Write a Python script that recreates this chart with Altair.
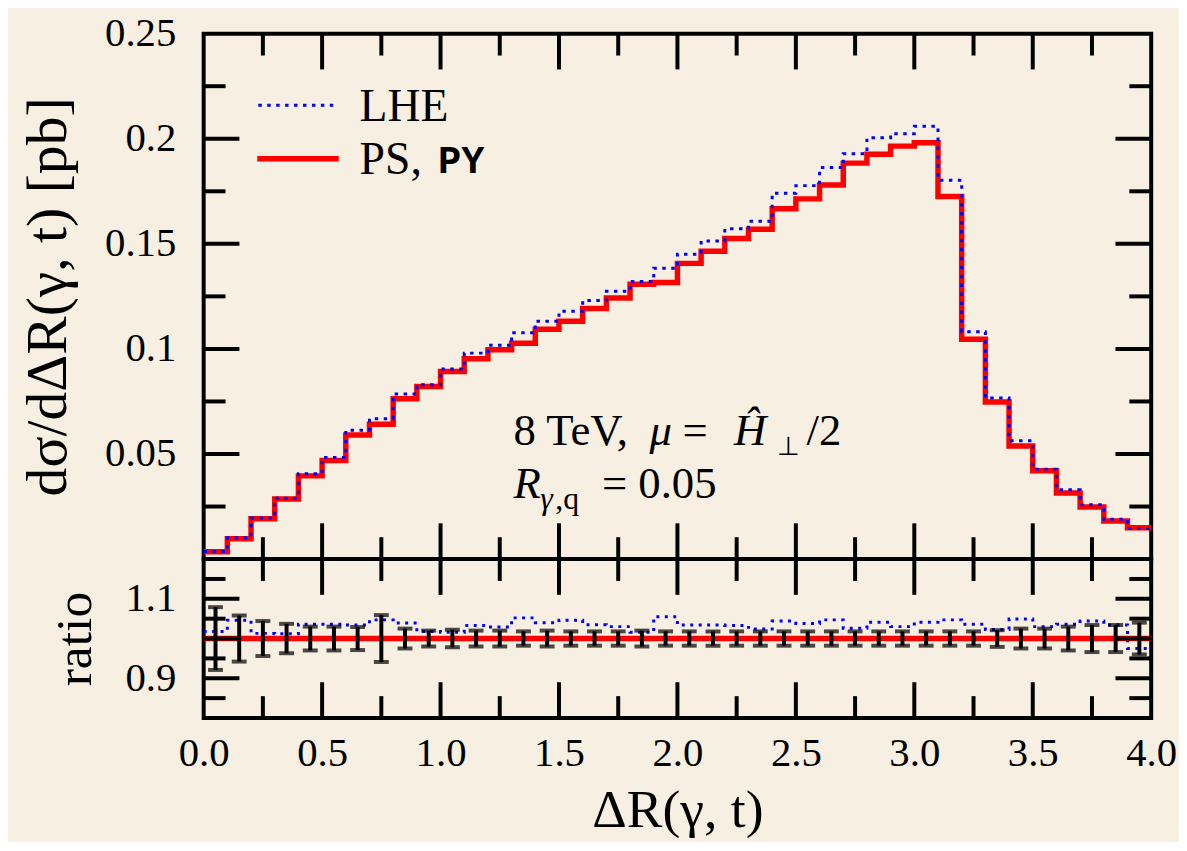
import altair as alt
import pandas as pd

# ---------------- data ----------------
bin_lo = [0.0, 0.1, 0.2, 0.3, 0.4, 0.5, 0.6, 0.7, 0.8, 0.9,
          1.0, 1.1, 1.2, 1.3, 1.4, 1.5, 1.6, 1.7, 1.8, 1.9,
          2.0, 2.1, 2.2, 2.3, 2.4, 2.5, 2.6, 2.7, 2.8, 2.9,
          3.0, 3.1, 3.2, 3.3, 3.4, 3.5, 3.6, 3.7, 3.8, 3.9]
x_end = 4.0

ps = [0.0035, 0.0097, 0.0192, 0.0286, 0.0396, 0.0469, 0.0590, 0.0642, 0.0763, 0.0821,
      0.0893, 0.0953, 0.0996, 0.1027, 0.1094, 0.1132, 0.1192, 0.1242, 0.1308, 0.1316,
      0.1407, 0.1465, 0.1525, 0.1569, 0.1667, 0.1714, 0.1780, 0.1884, 0.1926, 0.1965,
      0.1981, 0.1725, 0.1046, 0.0747, 0.0538, 0.0420, 0.0314, 0.0248, 0.0181, 0.0149]

lhe = [0.0036, 0.0101, 0.0195, 0.0290, 0.0406, 0.0484, 0.0613, 0.0668, 0.0786, 0.0830,
       0.0904, 0.0980, 0.1017, 0.1077, 0.1132, 0.1179, 0.1230, 0.1274, 0.1321, 0.1384,
       0.1451, 0.1514, 0.1572, 0.1607, 0.1741, 0.1777, 0.1863, 0.1929, 0.2005, 0.2024,
       0.2060, 0.1803, 0.1082, 0.0766, 0.0563, 0.0428, 0.0330, 0.0259, 0.0189, 0.0146]

ratio_lhe = [1.018, 1.046, 1.013, 1.012, 1.036, 1.036, 1.034, 1.047, 1.039, 1.018,
             1.016, 1.033, 1.029, 1.052, 1.040, 1.046, 1.035, 1.030, 1.016, 1.055,
             1.034, 1.034, 1.033, 1.024, 1.044, 1.038, 1.047, 1.026, 1.041, 1.030,
             1.041, 1.047, 1.036, 1.023, 1.049, 1.030, 1.036, 1.044, 1.034, 0.975]

ratio_err = [0.079, 0.058, 0.044, 0.037, 0.030, 0.030, 0.029, 0.059, 0.025, 0.020,
             0.022, 0.020, 0.020, 0.018, 0.020, 0.018, 0.018, 0.018, 0.020, 0.018,
             0.018, 0.018, 0.018, 0.018, 0.018, 0.018, 0.018, 0.018, 0.018, 0.018,
             0.018, 0.018, 0.018, 0.021, 0.025, 0.025, 0.030, 0.034, 0.034, 0.040]

x_labels = [0.0, 0.5, 1.0, 1.5, 2.0, 2.5, 3.0, 3.5, 4.0]
x_major = [0.5, 1.0, 1.5, 2.0, 2.5, 3.0, 3.5]
x_minor = [0.25, 0.75, 1.25, 1.75, 2.25, 2.75, 3.25, 3.75]
y1_labels = [0.05, 0.1, 0.15, 0.2, 0.25]
y1_major = [0.05, 0.1, 0.15, 0.2]
y1_minor = [0.025, 0.075, 0.125, 0.175, 0.225]
y2_labels = [0.9, 1.0, 1.1]
y2_major = [0.9, 1.0, 1.1]
y2_minor = [0.85, 0.95, 1.05, 1.15]

# ---------------- layout / style ----------------
W, H1, H2 = 954, 529, 160
SERIF = "Liberation Serif"
MONO = "Liberation Mono"
BG = "#F7EFE1"
TMAJ, TMIN = 36, 22

xs = alt.Scale(domain=[0, 4], nice=False, zero=False)
ys1 = alt.Scale(domain=[0, 0.25], nice=False, zero=False)
ys2 = alt.Scale(domain=[0.8, 1.2], nice=False, zero=False)

# one axis definition per channel, reused identically in every layer
ax_x_upper = None
ax_y_upper = alt.Axis(values=y1_labels, format="~g", title="dσ/dΔR(γ, t) [pb]",
                      labelPadding=28, titlePadding=27, titleFontSize=58)
ax_x_lower = alt.Axis(values=x_labels, format=".1f", title="ΔR(γ, t)",
                      labelPadding=16, titlePadding=10, titleFontSize=54,
                      labelFlush=False, labelOverlap=False)
ax_y_lower = alt.Axis(values=y2_labels, format=".1f", title="ratio",
                      labelPadding=28, titlePadding=24, titleFontSize=52)


def X(field, ax):
    return alt.X(field, scale=xs, axis=ax)


def step_df(vals):
    return pd.DataFrame({"x": bin_lo + [x_end], "y": vals + [vals[-1]]})


def xticks(vals, length, h, ax):
    df = pd.DataFrame({"v": vals})
    base = alt.Chart(df).mark_rule(color="black", strokeWidth=4)
    bot = base.encode(x=X("v:Q", ax), y=alt.value(h), y2=alt.value(h - length))
    top = base.encode(x=X("v:Q", ax), y=alt.value(0), y2=alt.value(length))
    return [bot, top]


def yticks(vals, length, scale, ax):
    df = pd.DataFrame({"v": vals})
    base = alt.Chart(df).mark_rule(color="black", strokeWidth=4)
    left = base.encode(y=alt.Y("v:Q", scale=scale, axis=ax),
                       x=alt.value(0), x2=alt.value(length))
    right = base.encode(y=alt.Y("v:Q", scale=scale, axis=ax),
                        x=alt.value(W), x2=alt.value(W - length))
    return [left, right]


def text(t, x, y, size, font=SERIF, style="normal", weight="normal"):
    return alt.Chart(pd.DataFrame({"t": [t]})).mark_text(
        font=font, fontSize=size, fontStyle=style, fontWeight=weight, align="left",
        baseline="alphabetic", color="black"
    ).encode(text="t:N", x=alt.value(x), y=alt.value(y))


# ---------------- upper panel ----------------
ps_line = alt.Chart(step_df(ps)).mark_line(
    interpolate="step-after", color="#FF0000", strokeWidth=5.5, clip=True, strokeCap="butt"
).encode(x=X("x:Q", ax_x_upper), y=alt.Y("y:Q", scale=ys1, axis=ax_y_upper))
lhe_line = alt.Chart(step_df(lhe)).mark_line(
    interpolate="step-after", color="#0000FF", strokeWidth=3, strokeDash=[3.5, 5.5],
    clip=True, strokeCap="butt"
).encode(x=X("x:Q", ax_x_upper), y=alt.Y("y:Q", scale=ys1, axis=ax_y_upper))

leg_blue = alt.Chart(pd.DataFrame({"a": [0]})).mark_rule(
    color="#0000FF", strokeWidth=3, strokeDash=[3.5, 5.5]
).encode(x=alt.value(55), x2=alt.value(131), y=alt.value(72))
leg_red = alt.Chart(pd.DataFrame({"a": [0]})).mark_rule(
    color="#FF0000", strokeWidth=5.5
).encode(x=alt.value(54), x2=alt.value(136), y=alt.value(126))

upper_layers = [ps_line, lhe_line, leg_blue, leg_red,
                text("LHE", 157, 88, 46),
                text("PS,", 157, 141, 46),
                text("PY", 236, 140, 39, font=MONO, weight="bold"),
                text("8 TeV,", 312, 414, 45),
                text("μ", 449, 414, 45, style="italic"),
                text("=", 482, 414, 45),
                text("Ĥ", 534, 414, 45, style="italic"),
                text("⊥", 577, 424, 26),
                text("/2", 607, 414, 45),
                text("R", 312, 468, 45, style="italic"),
                text("γ", 339, 479, 32, style="italic"),
                text(",q", 354, 479, 32),
                text("= 0.05", 401, 468, 45)]
upper_layers += xticks(x_major, TMAJ, H1, ax_x_upper) + xticks(x_minor, TMIN, H1, ax_x_upper)
upper_layers += yticks(y1_major, TMAJ, ys1, ax_y_upper) + yticks(y1_minor, TMIN, ys1, ax_y_upper)

upper = alt.layer(*upper_layers).properties(width=W, height=H1)

# ---------------- ratio panel ----------------
ratio_line = alt.Chart(step_df(ratio_lhe)).mark_line(
    interpolate="step-after", color="#0000FF", strokeWidth=3, strokeDash=[3, 5.5],
    clip=True, strokeCap="butt"
).encode(x=X("x:Q", ax_x_lower), y=alt.Y("y:Q", scale=ys2, axis=ax_y_lower))
one_line = alt.Chart(pd.DataFrame({"r": [1.0]})).mark_rule(
    color="#FF0000", strokeWidth=5.5
).encode(y=alt.Y("r:Q", scale=ys2, axis=ax_y_lower))

err_df = pd.DataFrame({
    "xc": [round(b + 0.05, 2) for b in bin_lo],
    "lo": [round(1.0 - e, 4) for e in ratio_err],
    "hi": [round(1.0 + e, 4) for e in ratio_err],
})
err_rule = alt.Chart(err_df).mark_rule(color="black", strokeWidth=4).encode(
    x=X("xc:Q", ax_x_lower),
    y=alt.Y("lo:Q", scale=ys2, axis=ax_y_lower), y2="hi:Q")
cap_lo = alt.Chart(err_df).mark_tick(color="black", thickness=4, size=15,
                                     orient="horizontal").encode(
    x=X("xc:Q", ax_x_lower), y=alt.Y("lo:Q", scale=ys2, axis=ax_y_lower))
cap_hi = alt.Chart(err_df).mark_tick(color="black", thickness=4, size=15,
                                     orient="horizontal").encode(
    x=X("xc:Q", ax_x_lower), y=alt.Y("hi:Q", scale=ys2, axis=ax_y_lower))

lower_layers = [ratio_line, one_line, err_rule, cap_lo, cap_hi]
lower_layers += xticks(x_major, TMAJ, H2, ax_x_lower) + xticks(x_minor, TMIN, H2, ax_x_lower)
lower_layers += yticks(y2_major, TMAJ, ys2, ax_y_lower) + yticks(y2_minor, TMIN, ys2, ax_y_lower)
lower = alt.layer(*lower_layers).properties(width=W, height=H2)

chart = alt.vconcat(upper, lower, spacing=0, bounds="flush").configure(
    background=BG,
    padding={"left": 10, "top": 0, "right": 0, "bottom": 0},
).configure_view(
    stroke="black", strokeWidth=4
).configure_axis(
    labelFont=SERIF, labelFontSize=41, labelColor="black",
    titleFont=SERIF, titleFontSize=52, titleFontWeight="normal", titleColor="black",
    ticks=False, tickSize=0, domain=False, grid=False,
)

chart.save("out.html", embed_options={"renderer": "svg", "actions": False})
